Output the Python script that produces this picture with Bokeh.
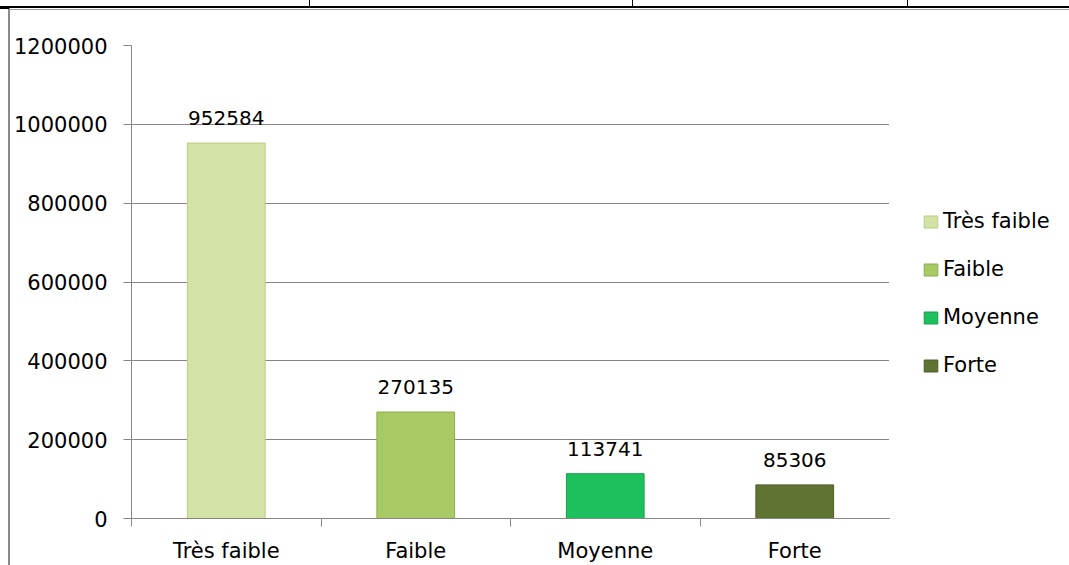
from bokeh.plotting import figure
from bokeh.layouts import row
from bokeh.models import (ColumnDataSource, Range1d, FixedTicker, NumeralTickFormatter,
                          Legend, LegendItem)
from bokeh.core.properties import value
from bokeh.embed import file_html
from bokeh.resources import INLINE

categories = ["Très faible", "Faible", "Moyenne", "Forte"]
counts = [952584, 270135, 113741, 85306]
colors = ["#d3e3a5", "#a9c964", "#1ebf5d", "#5f7432"]
outline = ["#b9cc85", "#8dab4a", "#17a04c", "#4a5c25"]
y_ticks = [0, 200000, 400000, 600000, 800000, 1000000, 1200000]

FONT = "DejaVu Sans"
GRAY = "#868686"

xs = [i + 0.5 for i in range(len(categories))]
src = ColumnDataSource(dict(x=xs, y=counts, cat=categories, color=colors, lc=outline,
                            lab=[str(v) for v in counts]))

# page decoration (table rules around the chart)
bg = ("linear-gradient(#000,#000) 0px 6px / 100% 2px no-repeat, "
      "linear-gradient(#000,#000) 309px 0px / 1px 7px no-repeat, "
      "linear-gradient(#000,#000) 632px 0px / 1px 7px no-repeat, "
      "linear-gradient(#000,#000) 907px 0px / 1px 7px no-repeat, "
      "linear-gradient(#000,#000) 0px 8px / 9px 1px no-repeat, "
      "linear-gradient(#8a8a8a,#8a8a8a) 8px 8px / 2px 100% no-repeat, "
      "linear-gradient(#9a9a9a,#9a9a9a) 8px 9px / 100% 1px no-repeat, "
      "#ffffff")

p = figure(width=889, height=565, output_backend="svg", toolbar_location=None,
           x_range=Range1d(0, len(categories)), y_range=Range1d(0, 1200000),
           min_border_left=131, min_border_right=0, min_border_top=45, min_border_bottom=45)
p.border_fill_color = None
p.background_fill_color = "white"
p.outline_line_color = None

r = p.vbar(x="x", top="y", width=0.41, bottom=0, source=src,
           fill_color="color", line_color="lc", line_width=1)

p.text(x="x", y="y", text="lab", source=src, text_align="center", text_baseline="alphabetic",
       y_offset=-25, text_font=value(FONT), text_font_size="20px", text_color="#000000")

# x axis: labels at category centres, ticks at category boundaries
p.xaxis.ticker = FixedTicker(ticks=xs, minor_ticks=list(range(len(categories) + 1)))
p.xaxis.major_label_overrides = {x: c for x, c in zip(xs, categories)}
p.xaxis.major_tick_line_color = None
p.xaxis.major_tick_out = 0
p.xaxis.major_tick_in = 0
p.xaxis.minor_tick_out = 8
p.xaxis.minor_tick_in = 0
p.xaxis.minor_tick_line_color = GRAY
p.xaxis.axis_line_color = GRAY
p.xaxis.major_label_standoff = 12
p.xaxis.major_label_text_font = FONT
p.xaxis.major_label_text_font_size = "21px"
p.xaxis.major_label_text_color = "#000000"

# y axis
p.yaxis.ticker = FixedTicker(ticks=y_ticks)
p.yaxis.formatter = NumeralTickFormatter(format="0")
p.yaxis.major_tick_out = 8
p.yaxis.major_tick_in = 0
p.yaxis.minor_tick_line_color = None
p.yaxis.major_tick_line_color = GRAY
p.yaxis.axis_line_color = GRAY
p.yaxis.major_label_standoff = 16
p.yaxis.major_label_text_font = FONT
p.yaxis.major_label_text_font_size = "21px"
p.yaxis.major_label_text_color = "#000000"

p.xgrid.grid_line_color = None
p.ygrid.grid_line_color = GRAY
p.ygrid.grid_line_width = 1

# legend panel (same bars, kept entirely out of this panel's view; only their legend shows)
pl = figure(width=180, height=565, output_backend="svg", toolbar_location=None,
            x_axis_type=None, y_axis_type=None,
            x_range=Range1d(50, 51), y_range=Range1d(2000000, 3000000),
            min_border_left=0, min_border_right=0, min_border_top=0, min_border_bottom=0)
pl.border_fill_color = None
pl.background_fill_color = None
pl.outline_line_color = None
pl.grid.visible = False
rl = pl.vbar(x="x", top="y", width=0.41, bottom=0, source=src,
             fill_color="color", line_color="lc", line_width=1)
items = [LegendItem(label=c, renderers=[rl], index=i) for i, c in enumerate(categories)]
legend = Legend(items=items, location=(33, 141), padding=0, margin=0, spacing=24,
                glyph_width=17, glyph_height=15, label_standoff=4,
                label_text_font=FONT, label_text_font_size="21px", label_text_color="#000000",
                border_line_color=None, background_fill_alpha=0)
pl.add_layout(legend)

layout = row(p, pl, styles={"background": bg})

open("out.html", "w").write(file_html(layout, INLINE))
